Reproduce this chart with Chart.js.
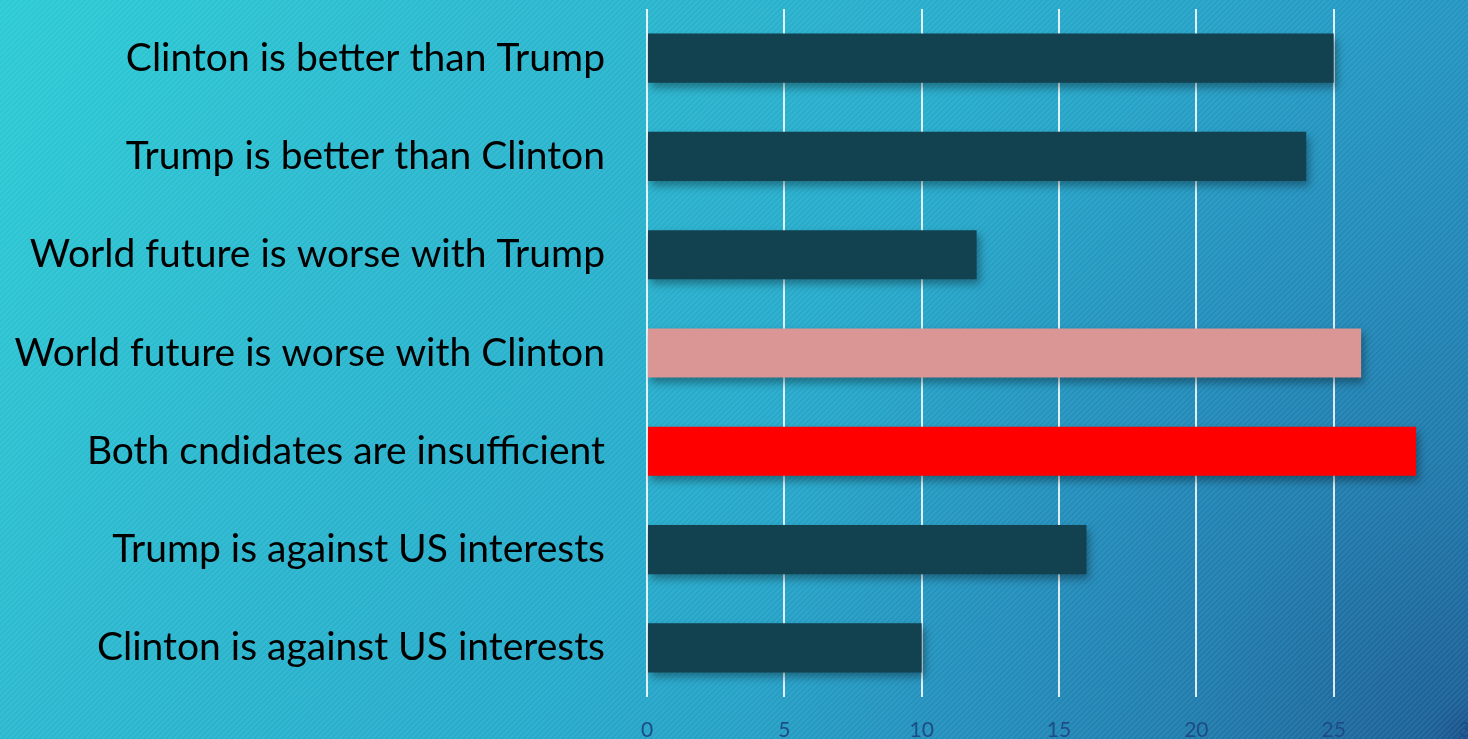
<!DOCTYPE html>
<html>
<head>
<meta charset="utf-8">
<script src="https://cdn.jsdelivr.net/npm/chart.js@4/dist/chart.umd.min.js"></script>
<style>
  html, body { margin: 0; padding: 0; overflow: hidden; background: #1e9ec2; }
  #wrap { width: 1471px; height: 739px; }
</style>
</head>
<body>
<div id="wrap"><canvas id="opinionChart"></canvas></div>
<script>
// survey answers, top to bottom
const categories = [
  'Clinton is better than Trump',
  'Trump is better than Clinton',
  'World future is worse with Trump',
  'World future is worse with Clinton',
  'Both cndidates are insufficient',
  'Trump is against US interests',
  'Clinton is against US interests'
];
const counts = [25, 24, 12, 26, 28, 16, 10];
const barColors = ['#12414f', '#12414f', '#12414f', '#d99694', '#ff0000', '#12414f', '#12414f'];
const xTicks = [0, 5, 10, 15, 20, 25, 30];

// teal-to-blue backdrop, darker in the lower right, with thin diagonal stripes
const backdrop = {
  id: 'backdrop',
  beforeDraw(chart) {
    const { ctx, width, height } = chart;
    ctx.save();
    const g = ctx.createLinearGradient(0, 0, 1468, 1003);
    g.addColorStop(0, '#2bcbd4');
    g.addColorStop(0.243, '#2ab8cf');
    g.addColorStop(0.468, '#26abcb');
    g.addColorStop(0.672, '#2396c2');
    g.addColorStop(1, '#1e7cae');
    ctx.fillStyle = g;
    ctx.fillRect(0, 0, width, height);

    const r = ctx.createRadialGradient(width, height, 0, width, height, 720);
    r.addColorStop(0, 'rgba(20,45,110,0.6)');
    r.addColorStop(0.06, 'rgba(20,45,110,0.4)');
    r.addColorStop(0.39, 'rgba(20,45,110,0.18)');
    r.addColorStop(0.61, 'rgba(20,45,110,0.1)');
    r.addColorStop(1, 'rgba(20,45,110,0)');
    ctx.fillStyle = r;
    ctx.fillRect(0, 0, width, height);

    ctx.strokeStyle = 'rgba(255,255,255,0.07)';
    ctx.lineWidth = 2;
    ctx.beginPath();
    for (let d = -height; d < width; d += 5.5) {
      ctx.moveTo(d, height);
      ctx.lineTo(d + height, 0);
    }
    ctx.stroke();
    ctx.restore();
  }
};

// soft drop shadow under the bars
const barShadow = {
  id: 'barShadow',
  beforeDatasetsDraw(chart) {
    const ctx = chart.ctx;
    ctx.save();
    ctx.shadowColor = 'rgba(0,0,0,0.35)';
    ctx.shadowBlur = 8;
    ctx.shadowOffsetX = 3;
    ctx.shadowOffsetY = 5;
  },
  afterDatasetsDraw(chart) {
    chart.ctx.restore();
  }
};

new Chart(document.getElementById('opinionChart'), {
  type: 'bar',
  data: {
    labels: categories,
    datasets: [{
      data: counts,
      backgroundColor: barColors,
      borderWidth: 0,
      barPercentage: 0.5,
      categoryPercentage: 1.0
    }]
  },
  options: {
    indexAxis: 'y',
    responsive: true,
    maintainAspectRatio: false,
    animation: false,
    layout: { padding: { top: 9, left: 0, right: 0, bottom: 0 } },
    plugins: { legend: { display: false }, tooltip: { enabled: false } },
    scales: {
      x: {
        min: 0,
        max: 30,
        afterBuildTicks(scale) { scale.ticks = xTicks.map(v => ({ value: v })); },
        afterFit(scale) {
          scale.height = 42;
          scale.paddingLeft = 0;
          scale.paddingRight = 0;
        },
        grid: { color: 'rgba(255,255,255,0.85)', lineWidth: 2, drawTicks: false },
        border: { display: false },
        ticks: { padding: 21, color: '#1d4d85', font: { family: 'Lato', size: 21 } }
      },
      y: {
        afterFit(scale) {
          scale.width = 647;
          scale.paddingTop = 0;
          scale.paddingBottom = 0;
        },
        grid: { display: false, drawTicks: false },
        border: { display: false },
        ticks: { padding: 42, color: '#000000', font: { family: 'Lato', size: 39 } }
      }
    }
  },
  plugins: [backdrop, barShadow]
});
</script>
</body>
</html>
